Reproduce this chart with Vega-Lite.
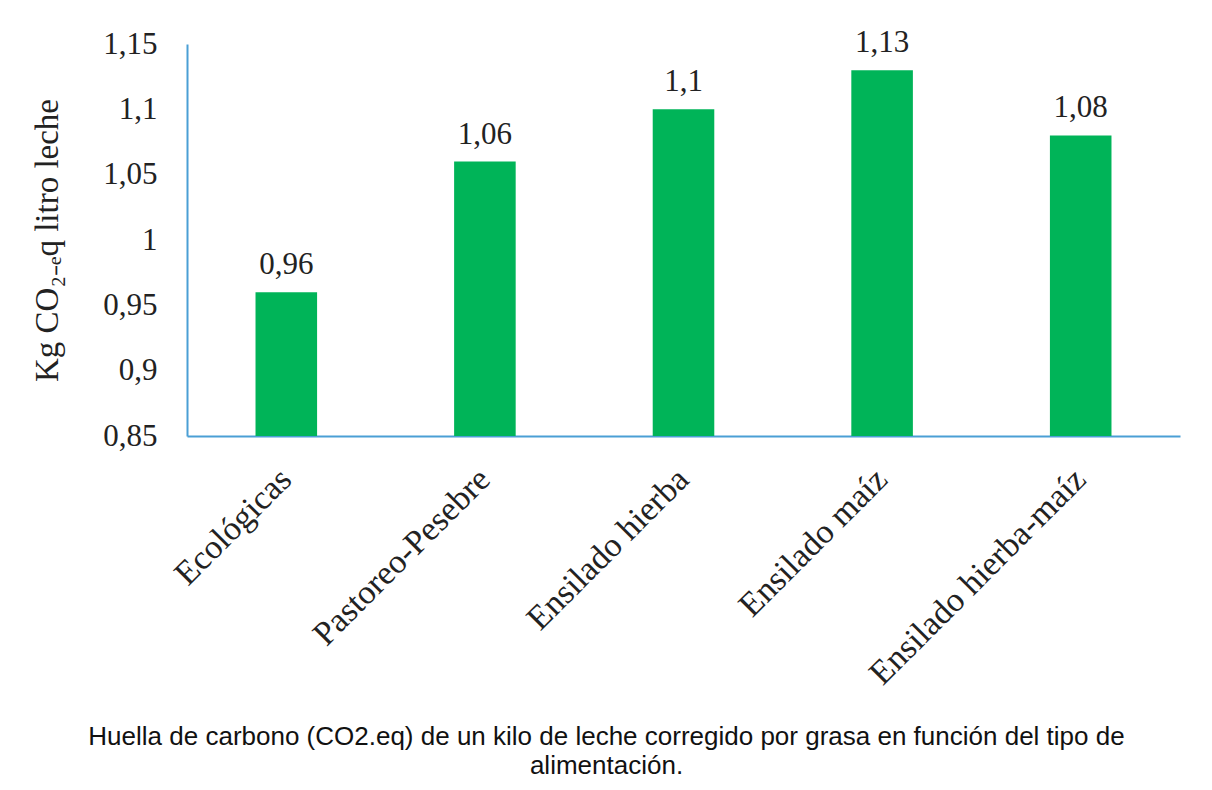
{
  "$schema": "https://vega.github.io/schema/vega-lite/v6.json",
  "autosize": {"type": "none"},
  "width": 993,
  "height": 392,
  "padding": {"left": 187, "top": 44, "right": 32, "bottom": 354},
  "background": "white",
  "config": {
    "view": {"stroke": null},
    "locale": {"number": {"decimal": ",", "thousands": ".", "grouping": [3], "currency": ["", " €"]}},
    "font": "Liberation Serif"
  },
  "title": {
    "text": ["Huella de carbono (CO2.eq) de un kilo de leche corregido por grasa en función del tipo de", "alimentación."],
    "orient": "bottom",
    "anchor": "middle",
    "font": "Liberation Sans",
    "fontSize": 26,
    "fontWeight": "normal",
    "color": "#111111",
    "lineHeight": 29,
    "offset": 33,
    "dx": -77
  },
  "data": {
    "values": [
      {"tipo": "Ecológicas", "valor": 0.96},
      {"tipo": "Pastoreo-Pesebre", "valor": 1.06},
      {"tipo": "Ensilado hierba", "valor": 1.1},
      {"tipo": "Ensilado maíz", "valor": 1.13},
      {"tipo": "Ensilado hierba-maíz", "valor": 1.08}
    ]
  },
  "encoding": {
    "x": {
      "field": "tipo",
      "type": "nominal",
      "sort": null,
      "scale": {"paddingInner": 0.69, "paddingOuter": 0.345},
      "axis": {
        "title": null,
        "labelAngle": -45,
        "labelAlign": "right",
        "labelBaseline": "middle",
        "labelFont": "Liberation Serif",
        "labelFontSize": 34,
        "labelColor": "#222222",
        "labelPadding": 38,
        "labelLimit": 0,
        "ticks": false,
        "domainColor": "#4b9fd5",
        "domainWidth": 2
      }
    },
    "y": {
      "field": "valor",
      "type": "quantitative",
      "scale": {"domain": [0.85, 1.15], "zero": false, "nice": false},
      "axis": {
        "title": "Kg CO₂₋ₑq litro leche",
        "titleFont": "Liberation Serif",
        "titleFontSize": 33,
        "titleFontWeight": "normal",
        "titleColor": "#222222",
        "titlePadding": 38,
        "values": [0.85, 0.9, 0.95, 1, 1.05, 1.1, 1.15],
        "format": "~g",
        "labelFont": "Liberation Serif",
        "labelFontSize": 31,
        "labelColor": "#222222",
        "labelPadding": 30,
        "ticks": false,
        "grid": false,
        "domainColor": "#4b9fd5",
        "domainWidth": 2
      }
    }
  },
  "layer": [
    {"mark": {"type": "bar", "color": "#00b458", "clip": true}, "encoding": {"y2": {"datum": 0.85}}},
    {
      "mark": {"type": "text", "baseline": "bottom", "dy": -11, "fontSize": 31, "font": "Liberation Serif", "color": "#222222"},
      "encoding": {"text": {"field": "valor", "type": "quantitative", "format": "~g"}}
    }
  ]
}
